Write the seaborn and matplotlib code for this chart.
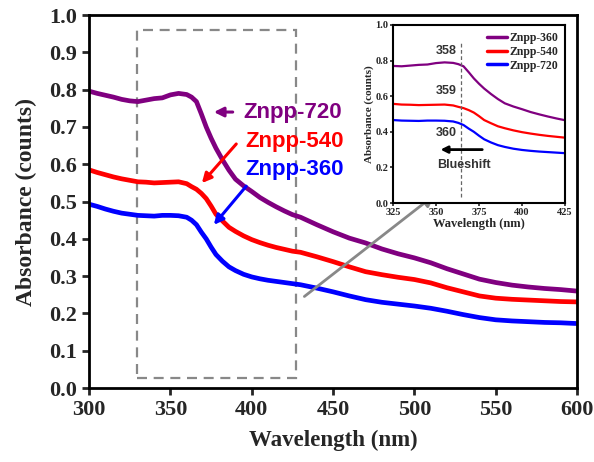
import matplotlib
matplotlib.use("Agg")
import matplotlib.pyplot as plt
from matplotlib.patches import Rectangle
import pandas as pd
import seaborn as sns

# wavelength grid (nm) and absorbance
WAVELENGTH = [300, 305, 310, 315, 320, 325, 330, 335, 340, 345, 350, 355, 360,
              363, 366, 369, 372, 375, 378, 382, 386, 390, 395, 400, 405, 410,
              415, 420, 425, 430, 440, 450, 460, 470, 480, 490, 500, 510, 520,
              530, 540, 550, 560, 570, 580, 590, 600]

ZNPP_720 = [0.796, 0.790, 0.785, 0.780, 0.774, 0.770, 0.768, 0.772, 0.776, 0.778,
            0.786, 0.790, 0.787, 0.780, 0.768, 0.735, 0.700, 0.670, 0.643, 0.612,
            0.584, 0.560, 0.542, 0.527, 0.511, 0.498, 0.486, 0.475, 0.465, 0.458,
            0.438, 0.419, 0.402, 0.389, 0.373, 0.360, 0.349, 0.336, 0.320, 0.306,
            0.292, 0.283, 0.276, 0.271, 0.267, 0.264, 0.260]

ZNPP_540 = [0.585, 0.578, 0.572, 0.566, 0.561, 0.557, 0.553, 0.552, 0.550, 0.551,
            0.552, 0.553, 0.548, 0.540, 0.533, 0.522, 0.508, 0.488, 0.466, 0.448,
            0.431, 0.420, 0.408, 0.398, 0.390, 0.383, 0.377, 0.372, 0.367, 0.364,
            0.352, 0.339, 0.325, 0.312, 0.304, 0.297, 0.291, 0.282, 0.269, 0.258,
            0.247, 0.241, 0.238, 0.236, 0.234, 0.232, 0.231]

ZNPP_360 = [0.493, 0.487, 0.480, 0.474, 0.469, 0.466, 0.463, 0.462, 0.461, 0.463,
            0.463, 0.462, 0.458, 0.450, 0.438, 0.418, 0.400, 0.378, 0.358, 0.340,
            0.325, 0.315, 0.305, 0.298, 0.293, 0.289, 0.286, 0.283, 0.280, 0.277,
            0.268, 0.258, 0.247, 0.237, 0.230, 0.225, 0.220, 0.214, 0.206, 0.197,
            0.189, 0.183, 0.180, 0.178, 0.176, 0.175, 0.173]

SERIES_NAMES = ["Znpp-720", "Znpp-540", "Znpp-360"]
# the inset legend in the original labels the curves in the reverse order
INSET_NAMES = ["Znpp-360", "Znpp-540", "Znpp-720"]
COLORS = ["#800080", "#ff0000", "#0000ff"]

PEAK_LABELS = ["358", "359", "360"]

sns.set_theme(style="ticks")
plt.rcParams["font.family"] = ["Liberation Serif", "DejaVu Serif"]
plt.rcParams["font.weight"] = "bold"
plt.rcParams["axes.labelweight"] = "bold"

df = pd.DataFrame({"wl": WAVELENGTH, SERIES_NAMES[0]: ZNPP_720,
                   SERIES_NAMES[1]: ZNPP_540, SERIES_NAMES[2]: ZNPP_360})

fig = plt.figure(figsize=(5.94, 4.62), dpi=100)
ax = fig.add_axes([0.150, 0.160, 0.8215, 0.8074])

for name, col in zip(SERIES_NAMES, COLORS):
    sns.lineplot(data=df, x="wl", y=name, color=col, lw=3.4, ax=ax, legend=False)

ax.set_xlim(300, 600)
ax.set_ylim(0, 1.0)
ax.set_xticks([300, 350, 400, 450, 500, 550, 600])
ax.set_yticks([0.0, 0.1, 0.2, 0.3, 0.4, 0.5, 0.6, 0.7, 0.8, 0.9, 1.0])
ax.set_yticklabels([f"{v:.1f}" for v in ax.get_yticks()])
ax.set_xlabel("Wavelength (nm)", fontsize=16.5, fontweight="bold", labelpad=7)
ax.set_ylabel("Absorbance (counts)", fontsize=17, fontweight="bold", labelpad=9)
ax.tick_params(direction="out", length=5, width=2, labelsize=16)
for lab in ax.get_xticklabels() + ax.get_yticklabels():
    lab.set_fontweight("bold")
for sp in ax.spines.values():
    sp.set_linewidth(2)
    sp.set_color("black")

# dashed zoom box
ax.add_patch(Rectangle((329.5, 0.027), 97.5, 0.933, fill=False,
                       edgecolor="#888888", lw=1.6, ls=(0, (4.5, 3))))
# grey arrow from box to inset
ax.annotate("", xy=(514, 0.523), xytext=(431, 0.241),
            arrowprops=dict(arrowstyle="-|>", color="#888888", lw=2,
                            mutation_scale=18))

# curve labels with arrows
sans = ["Liberation Sans", "DejaVu Sans"]
ax.text(394.7, 0.740, SERIES_NAMES[0], color=COLORS[0], fontsize=16,
        fontweight="bold", family=sans, va="center", ha="left")
ax.annotate("", xy=(375, 0.740), xytext=(390, 0.740),
            arrowprops=dict(arrowstyle="-|>", color=COLORS[0], lw=2.2,
                            mutation_scale=14))
ax.text(395.9, 0.660, SERIES_NAMES[1], color=COLORS[1], fontsize=16,
        fontweight="bold", family=sans, va="center", ha="left")
ax.annotate("", xy=(368.2, 0.544), xytext=(391.6, 0.660),
            arrowprops=dict(arrowstyle="-|>", color=COLORS[1], lw=2.2,
                            mutation_scale=14))
ax.text(395.9, 0.587, SERIES_NAMES[2], color=COLORS[2], fontsize=16,
        fontweight="bold", family=sans, va="center", ha="left")
ax.annotate("", xy=(375.6, 0.432), xytext=(397.7, 0.547),
            arrowprops=dict(arrowstyle="-|>", color=COLORS[2], lw=2.2,
                            mutation_scale=14))

# inset
axin = fig.add_axes([0.6616, 0.5606, 0.2896, 0.3853])
for name, lab, col in zip(SERIES_NAMES, INSET_NAMES, COLORS):
    sns.lineplot(data=df, x="wl", y=name, color=col, lw=1.6, ax=axin, label=lab)
axin.set_xlim(325, 425)
axin.set_ylim(0, 1.0)
axin.set_xticks([325, 350, 375, 400, 425])
axin.set_yticks([0.0, 0.2, 0.4, 0.6, 0.8, 1.0])
axin.set_yticklabels([f"{v:.1f}" for v in axin.get_yticks()])
axin.set_xlabel("Wavelength (nm)", fontsize=9, fontweight="bold", labelpad=1)
axin.set_ylabel("Absorbance (counts)", fontsize=8, fontweight="bold", labelpad=1)
axin.tick_params(direction="out", length=2.5, width=1.2, labelsize=7.5, pad=1)
for lab in axin.get_xticklabels() + axin.get_yticklabels():
    lab.set_fontweight("bold")
for sp in axin.spines.values():
    sp.set_linewidth(1.5)
    sp.set_color("black")

leg = axin.legend(loc="upper right", frameon=False,
                  handlelength=1.7, handletextpad=0.15, labelspacing=0.15,
                  borderaxespad=0.2, prop={"weight": "bold", "size": 8.5})
for line in leg.get_lines():
    line.set_linewidth(2.5)

axin.axvline(364.5, ymin=0.035, ymax=0.9, color="#666666", lw=0.9, ls=(0, (3, 2)))
for txt, yy in zip(PEAK_LABELS, [0.855, 0.63, 0.393]):
    axin.text(356, yy, txt, fontsize=9, family=sans, color="#333333",
              ha="center", va="center")
axin.annotate("", xy=(351, 0.30), xytext=(378.5, 0.30),
              arrowprops=dict(arrowstyle="-|>", color="black", lw=2,
                              mutation_scale=10))
axin.text(366, 0.213, "Blueshift", fontsize=9, fontweight="bold", family=sans,
          color="#333333", ha="center", va="center")

fig.savefig("out.png", dpi=100)
